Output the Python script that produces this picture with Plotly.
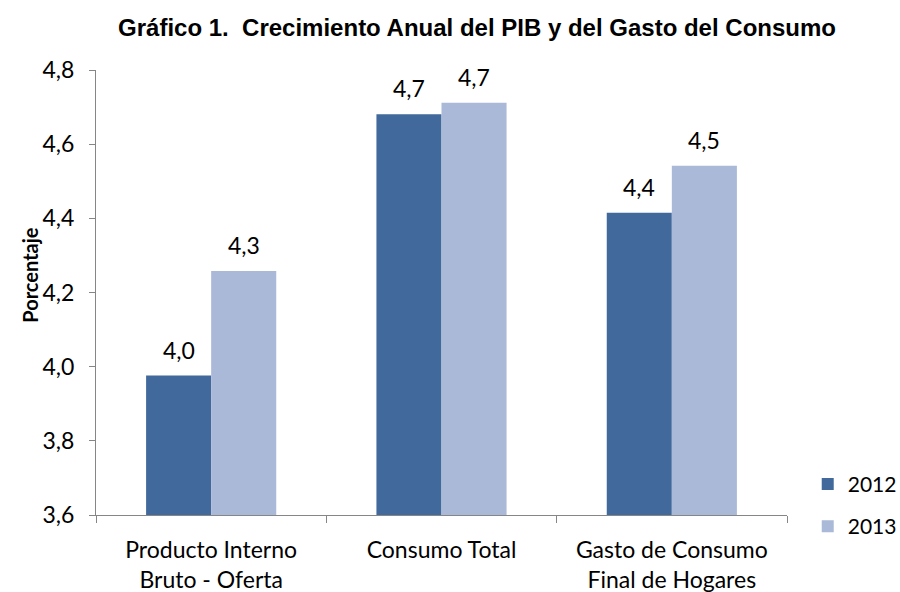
import plotly.graph_objects as go

categorias = ["Producto Interno<br>Bruto - Oferta", "Consumo Total", "Gasto de Consumo<br>Final de Hogares"]
valores_2012 = [3.976, 4.681, 4.415]
valores_2013 = [4.258, 4.712, 4.542]

font_main = "Lato, Open Sans, sans-serif"

fig = go.Figure()
fig.add_trace(go.Bar(
    x=categorias, y=valores_2012, name="2012", legendgroup="a",
    marker=dict(color="#41699b", line=dict(width=0)),
))
fig.add_trace(go.Bar(
    x=categorias, y=valores_2013, name="2013", legendgroup="b",
    marker=dict(color="#aab9d8", line=dict(width=0)),
))

# value labels above the bars
for vals, shift in [(valores_2012, -32.5), (valores_2013, 32.5)]:
    for c, v in zip(categorias, vals):
        fig.add_annotation(
            x=c, y=v, text=f"{v:.1f}".replace(".", ","),
            showarrow=False, yanchor="bottom", xshift=shift, yshift=10,
            font=dict(size=23, family=font_main, color="black"),
        )

# y axis title
fig.add_annotation(
    xref="paper", yref="paper", x=-0.0955, y=0.54,
    text="<b>Porcentaje</b>", textangle=-90, showarrow=False,
    xanchor="center", yanchor="middle",
    font=dict(size=20, family=font_main, color="black"),
)

fig.update_layout(
    width=900, height=592,
    paper_bgcolor="white", plot_bgcolor="white",
    margin=dict(l=96, r=113, t=70, b=77, autoexpand=False),
    bargap=0.435, bargroupgap=0,
    title=dict(
        text="<b>Gráfico 1.  Crecimiento Anual del PIB y del Gasto del Consumo</b>",
        x=0.53, xanchor="center", y=0.953, yanchor="middle",
        font=dict(family="Liberation Sans, Arial, sans-serif", size=24, color="black"),
    ),
    font=dict(family=font_main, color="black"),
    legend=dict(
        x=1.03, xanchor="left", y=0.115, yanchor="top",
        font=dict(size=21, family=font_main, color="black"),
        tracegroupgap=12, itemwidth=30,
    ),
    showlegend=True,
)

fig.update_yaxes(
    range=[3.6, 4.8], dtick=0.2, tickformat=".1f",
    showgrid=False, zeroline=False, automargin=False,
    showline=True, linecolor="#868686", linewidth=1,
    ticks="outside", ticklen=6, tickcolor="#868686",
    tickfont=dict(size=23, family=font_main, color="black"),
    ticklabelstandoff=10,
)
fig.update_xaxes(
    showgrid=False, automargin=False,
    showline=True, linecolor="#868686", linewidth=1,
    ticks="outside", ticklen=7, tickcolor="#868686", tickson="boundaries",
    tickfont=dict(size=23, family=font_main, color="black"),
    ticklabelstandoff=14,
)
fig.update_layout(separators=",.")

fig.write_html("out.html", config={"displayModeBar": False},
               post_script="document.body.style.margin='0';")
